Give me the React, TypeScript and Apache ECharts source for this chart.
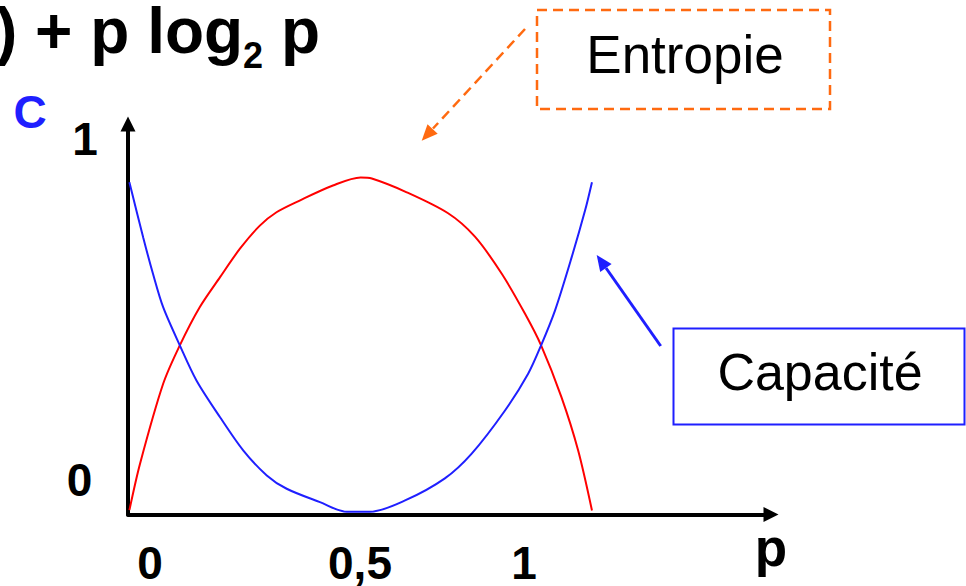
import React, { useEffect, useRef } from "react";
import * as echarts from "echarts";

// Entropy curve (red): p -> H(p)
const entropyP = [0, 0.023, 0.073, 0.109, 0.152, 0.196, 0.239, 0.282, 0.318, 0.368, 0.44, 0.5, 0.524, 0.596, 0.689, 0.747, 0.805, 0.855, 0.89, 0.934, 0.97, 1.0];
const entropyH = [0.005, 0.144, 0.383, 0.498, 0.612, 0.702, 0.787, 0.856, 0.896, 0.931, 0.976, 1.0, 0.997, 0.958, 0.893, 0.823, 0.712, 0.593, 0.498, 0.343, 0.184, 0.004];

// Capacity curve (blue): p -> C(p)
const capacityP = [0, 0.03, 0.051, 0.073, 0.109, 0.145, 0.196, 0.246, 0.297, 0.34, 0.412, 0.47, 0.52, 0.596, 0.682, 0.74, 0.812, 0.862, 0.89, 0.92, 0.956, 0.985, 1.0];
const capacityC = [0.986, 0.82, 0.712, 0.612, 0.498, 0.393, 0.283, 0.184, 0.109, 0.069, 0.029, 0.0, 0.0, 0.034, 0.1, 0.174, 0.303, 0.413, 0.498, 0.602, 0.761, 0.901, 0.986];

// Tick labels as shown on the slide
const xTickLabels = ["0", "0,5", "1"];
const yTickLabels = ["1", "0"];
const xAxisName = "p";
const yAxisName = "C";
const titleMain = ") + p log";
const titleSub = "2";
const titleEnd = "p";
const entropyLabel = "Entropie";
const capacityLabel = "Capacité";

const FONT = "'Liberation Sans', Arial, Helvetica, sans-serif";
const BLUE = "#1f1fff";
const RED = "#ff0000";
const ORANGE = "#ff6a10";

export default function App() {
  const ref = useRef<HTMLDivElement>(null);

  useEffect(() => {
    if (!ref.current) return;
    const chart = echarts.init(ref.current, undefined, { renderer: "svg" });

    const entropyData = entropyP.map((p, i) => [p, entropyH[i]]);
    const capacityData = capacityP.map((p, i) => [p, capacityC[i]]);

    const axisLine = {
      show: true,
      onZero: false,
      symbol: ["none", "triangle"],
      symbolSize: [15, 15],
      lineStyle: { color: "#000", width: 4 },
    };

    const xTickPos = [150, 360, 524];
    const yTickPos = [
      { x: 85, y: 139 },
      { x: 79.5, y: 480 },
    ];

    const boldText = (text: string, x: number, y: number, size: number, fill = "#000", align = "center") => ({
      type: "text",
      x,
      y,
      style: {
        text,
        fill,
        fontSize: size,
        lineHeight: Math.round(size * 0.8),
        fontWeight: "bold",
        fontFamily: FONT,
        align,
        verticalAlign: "middle",
      },
    });

    const option: any = {
      animation: false,
      backgroundColor: "#ffffff",
      grid: { left: 128, right: 195, top: 124, bottom: 71.5, containLabel: false },
      xAxis: {
        type: "value",
        min: -0.003,
        max: 1.387,
        axisLine,
        axisTick: { show: false },
        axisLabel: { show: false },
        splitLine: { show: false },
      },
      yAxis: {
        type: "value",
        min: -0.008,
        max: 1.16,
        axisLine,
        axisTick: { show: false },
        axisLabel: { show: false },
        splitLine: { show: false },
      },
      series: [
        {
          name: "Entropie",
          type: "line",
          data: entropyData,
          smooth: 0.3,
          showSymbol: false,
          lineStyle: { color: RED, width: 2 },
          z: 3,
        },
        {
          name: "Capacité",
          type: "line",
          data: capacityData,
          smooth: 0.3,
          showSymbol: false,
          lineStyle: { color: BLUE, width: 2 },
          z: 3,
        },
      ],
      graphic: [
        // title fragment (cut at the left edge, as on the slide)
        boldText(titleMain, -4, 31, 64, "#000", "left"),
        boldText(titleSub, 243, 55.5, 36, "#000", "left"),
        boldText(titleEnd, 281, 31, 64, "#000", "left"),
        // axis names
        boldText(yAxisName, 30, 111.5, 46, BLUE),
        boldText(xAxisName, 771, 547.5, 53),
        // tick labels
        ...xTickLabels.map((t, i) => boldText(t, xTickPos[i], 563, 46)),
        ...yTickLabels.map((t, i) => boldText(t, yTickPos[i].x, yTickPos[i].y, 46)),
        // Entropie box
        {
          type: "rect",
          shape: { x: 537, y: 10, width: 293, height: 99 },
          style: { fill: "#fff", stroke: ORANGE, lineWidth: 2.5, lineDash: [10, 6] },
        },
        {
          type: "text",
          x: 685,
          y: 54,
          style: { text: entropyLabel, fill: "#000", fontSize: 53, fontFamily: FONT, align: "center", verticalAlign: "middle" },
        },
        // Entropie arrow (dashed)
        {
          type: "line",
          shape: { x1: 525, y1: 29, x2: 433, y2: 128.5 },
          style: { stroke: ORANGE, lineWidth: 2.5, lineDash: [10, 6] },
        },
        {
          type: "polygon",
          shape: { points: [[421.7, 140.7], [437.7, 133.7], [427.5, 124.2]] },
          style: { fill: ORANGE },
        },
        // Capacité box
        {
          type: "rect",
          shape: { x: 673.5, y: 328.5, width: 291, height: 96 },
          style: { fill: "#fff", stroke: BLUE, lineWidth: 2 },
        },
        {
          type: "text",
          x: 820,
          y: 371.5,
          style: { text: capacityLabel, fill: "#000", fontSize: 52, fontFamily: FONT, align: "center", verticalAlign: "middle" },
        },
        // Capacité arrow
        {
          type: "line",
          shape: { x1: 660.7, y1: 346, x2: 606, y2: 268 },
          style: { stroke: BLUE, lineWidth: 3 },
        },
        {
          type: "polygon",
          shape: { points: [[596.7, 255], [611.6, 264.1], [600.2, 272.1]] },
          style: { fill: BLUE },
        },
      ],
    };

    chart.setOption(option);
    return () => chart.dispose();
  }, []);

  return (
    <div
      ref={ref}
      style={{ position: "fixed", left: 0, top: 0, width: 966, height: 586, background: "#fff" }}
    />
  );
}
